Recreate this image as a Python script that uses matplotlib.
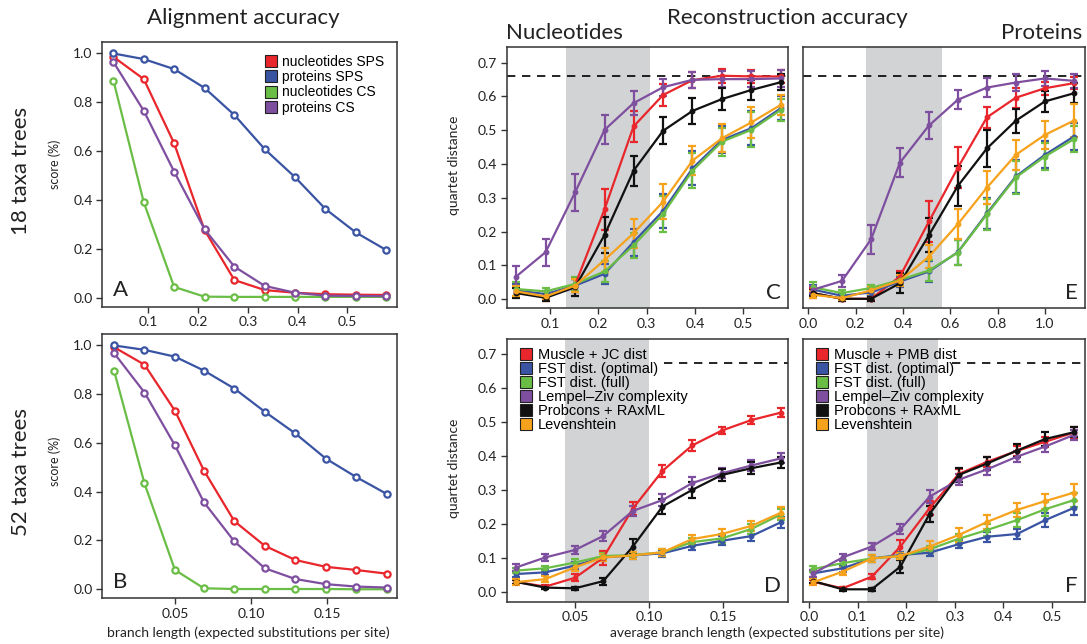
import matplotlib
matplotlib.use("Agg")
import matplotlib.pyplot as plt
from matplotlib.lines import Line2D

# ---- colours / labels ----
RED, BLUE, GREEN, PURPLE, BLACK, ORANGE = "#e8262b", "#3a54a4", "#6abd45", "#7f4f9f", "#111111", "#f6a21d"

align_labels = ["nucleotides SPS", "proteins SPS", "nucleotides CS", "proteins CS"]
align_colors = [RED, BLUE, GREEN, PURPLE]

rec_colors = [RED, BLUE, GREEN, PURPLE, BLACK, ORANGE]
nuc_labels = ["Muscle + JC dist", "FST dist. (optimal)", "FST dist. (full)",
              "Lempel\u2013Ziv complexity", "Probcons + RAxML", "Levenshtein"]
prot_labels = ["Muscle + PMB dist", "FST dist. (optimal)", "FST dist. (full)",
               "Lempel\u2013Ziv complexity", "Probcons + RAxML", "Levenshtein"]

# ---- x values (branch lengths) ----
x_18_nuc = [0.030, 0.091, 0.152, 0.213, 0.273, 0.334, 0.395, 0.456, 0.517, 0.578]
x_52_nuc = [0.010, 0.030, 0.050, 0.069, 0.089, 0.109, 0.129, 0.149, 0.169, 0.189]
x_18_prot = [0.020, 0.142, 0.265, 0.387, 0.510, 0.632, 0.755, 0.877, 1.000, 1.122]
x_52_prot = [0.009, 0.069, 0.129, 0.188, 0.248, 0.308, 0.367, 0.428, 0.486, 0.545]

# ---- alignment accuracy (A: 18 taxa, B: 52 taxa); order = align_labels ----
score_A = [
    [0.986, 0.895, 0.632, 0.277, 0.072, 0.031, 0.020, 0.014, 0.012, 0.011],
    [1.000, 0.977, 0.936, 0.859, 0.748, 0.608, 0.493, 0.363, 0.267, 0.195],
    [0.889, 0.390, 0.044, 0.004, 0.003, 0.003, 0.003, 0.003, 0.003, 0.003],
    [0.965, 0.765, 0.516, 0.280, 0.127, 0.048, 0.020, 0.008, 0.007, 0.006],
]
score_B = [
    [0.993, 0.921, 0.732, 0.487, 0.279, 0.178, 0.120, 0.092, 0.079, 0.064],
    [1.000, 0.982, 0.954, 0.897, 0.823, 0.728, 0.639, 0.536, 0.460, 0.391],
    [0.897, 0.434, 0.079, 0.004, 0.001, 0.001, 0.001, 0.001, 0.000, 0.000],
    [0.969, 0.807, 0.590, 0.357, 0.196, 0.086, 0.042, 0.021, 0.011, 0.007],
]

# ---- reconstruction accuracy (quartet distance); order = rec_colors ----
qd_C = [
    [0.020, 0.006, 0.042, 0.266, 0.511, 0.604, 0.648, 0.661, 0.659, 0.659],
    [0.026, 0.015, 0.040, 0.075, 0.169, 0.261, 0.387, 0.471, 0.506, 0.565],
    [0.030, 0.023, 0.045, 0.082, 0.159, 0.252, 0.380, 0.466, 0.501, 0.560],
    [0.067, 0.139, 0.316, 0.501, 0.580, 0.627, 0.649, 0.651, 0.651, 0.653],
    [0.018, 0.004, 0.035, 0.190, 0.380, 0.498, 0.557, 0.592, 0.619, 0.642],
    [0.023, 0.008, 0.040, 0.116, 0.195, 0.288, 0.410, 0.476, 0.523, 0.575],
]
err_C = [
    [0.015, 0.010, 0.020, 0.060, 0.045, 0.033, 0.023, 0.020, 0.020, 0.020],
    [0.020, 0.010, 0.020, 0.030, 0.040, 0.050, 0.050, 0.040, 0.050, 0.035],
    [0.020, 0.010, 0.020, 0.030, 0.037, 0.052, 0.052, 0.041, 0.052, 0.033],
    [0.030, 0.040, 0.055, 0.043, 0.035, 0.025, 0.023, 0.023, 0.024, 0.024],
    [0.015, 0.008, 0.025, 0.053, 0.044, 0.040, 0.038, 0.033, 0.030, 0.024],
    [0.015, 0.008, 0.020, 0.035, 0.043, 0.052, 0.044, 0.042, 0.045, 0.030],
]
qd_E = [
    [0.018, 0.001, 0.001, 0.067, 0.230, 0.389, 0.538, 0.596, 0.624, 0.639],
    [0.028, 0.010, 0.020, 0.052, 0.082, 0.139, 0.254, 0.363, 0.427, 0.481],
    [0.035, 0.018, 0.033, 0.057, 0.085, 0.138, 0.251, 0.360, 0.422, 0.473],
    [0.028, 0.054, 0.177, 0.404, 0.514, 0.590, 0.626, 0.641, 0.653, 0.646],
    [0.018, 0.001, 0.001, 0.047, 0.190, 0.335, 0.446, 0.528, 0.585, 0.609],
    [0.013, 0.003, 0.026, 0.055, 0.126, 0.222, 0.330, 0.427, 0.486, 0.528],
]
err_E = [
    [0.015, 0.005, 0.005, 0.015, 0.060, 0.060, 0.031, 0.030, 0.020, 0.018],
    [0.015, 0.008, 0.010, 0.015, 0.030, 0.037, 0.046, 0.050, 0.040, 0.039],
    [0.015, 0.008, 0.010, 0.015, 0.030, 0.037, 0.046, 0.050, 0.040, 0.039],
    [0.010, 0.018, 0.043, 0.044, 0.041, 0.028, 0.029, 0.025, 0.022, 0.020],
    [0.010, 0.005, 0.005, 0.030, 0.050, 0.058, 0.054, 0.035, 0.031, 0.030],
    [0.010, 0.005, 0.010, 0.015, 0.035, 0.045, 0.048, 0.044, 0.042, 0.048],
]
qd_D = [
    [0.029, 0.015, 0.041, 0.100, 0.245, 0.356, 0.431, 0.475, 0.506, 0.528],
    [0.052, 0.057, 0.077, 0.101, 0.107, 0.113, 0.135, 0.150, 0.164, 0.205],
    [0.062, 0.069, 0.086, 0.105, 0.108, 0.116, 0.146, 0.157, 0.185, 0.228],
    [0.071, 0.101, 0.123, 0.164, 0.238, 0.270, 0.320, 0.349, 0.372, 0.393],
    [0.029, 0.012, 0.010, 0.031, 0.133, 0.251, 0.300, 0.344, 0.364, 0.381],
    [0.028, 0.037, 0.072, 0.101, 0.107, 0.116, 0.155, 0.170, 0.194, 0.233],
]
err_D = [
    [0.005, 0.005, 0.010, 0.020, 0.020, 0.017, 0.015, 0.010, 0.012, 0.012],
    [0.008, 0.008, 0.010, 0.010, 0.010, 0.010, 0.012, 0.013, 0.014, 0.016],
    [0.008, 0.008, 0.010, 0.010, 0.010, 0.010, 0.012, 0.013, 0.015, 0.016],
    [0.010, 0.010, 0.012, 0.015, 0.015, 0.017, 0.018, 0.015, 0.015, 0.015],
    [0.005, 0.005, 0.005, 0.010, 0.022, 0.022, 0.023, 0.018, 0.017, 0.015],
    [0.008, 0.008, 0.012, 0.010, 0.010, 0.010, 0.013, 0.015, 0.015, 0.017],
]
qd_F = [
    [0.029, 0.010, 0.044, 0.133, 0.246, 0.347, 0.383, 0.415, 0.442, 0.469],
    [0.054, 0.069, 0.098, 0.108, 0.115, 0.140, 0.162, 0.170, 0.211, 0.247],
    [0.067, 0.084, 0.098, 0.105, 0.125, 0.156, 0.182, 0.211, 0.243, 0.270],
    [0.054, 0.101, 0.133, 0.184, 0.280, 0.330, 0.361, 0.398, 0.428, 0.462],
    [0.031, 0.007, 0.007, 0.074, 0.229, 0.344, 0.378, 0.416, 0.450, 0.470],
    [0.028, 0.059, 0.098, 0.105, 0.133, 0.167, 0.206, 0.241, 0.267, 0.292],
]
err_F = [
    [0.005, 0.005, 0.008, 0.020, 0.020, 0.015, 0.015, 0.015, 0.015, 0.015],
    [0.010, 0.010, 0.010, 0.010, 0.010, 0.012, 0.015, 0.015, 0.020, 0.020],
    [0.010, 0.010, 0.010, 0.010, 0.010, 0.015, 0.018, 0.020, 0.020, 0.020],
    [0.010, 0.010, 0.010, 0.015, 0.020, 0.017, 0.017, 0.017, 0.015, 0.015],
    [0.005, 0.005, 0.005, 0.020, 0.025, 0.020, 0.020, 0.020, 0.020, 0.015],
    [0.008, 0.010, 0.010, 0.010, 0.015, 0.020, 0.020, 0.020, 0.022, 0.025],
]

# shaded ranges and random-tree baseline
shade_C, shade_E = (0.133, 0.308), (0.242, 0.565)
shade_D, shade_F = (0.0433, 0.100), (0.1197, 0.2655)
random_C, random_D = 0.661, 0.673

plt.rcParams["font.family"] = ["Lato", "DejaVu Sans"]
EDGE = "#333333"
TXT = "#222222"

fig = plt.figure(figsize=(10.87, 6.44), dpi=100)


def style_axes(ax, ylabels=True):
    for s in ax.spines.values():
        s.set_color(EDGE)
        s.set_linewidth(1.1)
    ax.tick_params(axis="both", direction="out", length=4, width=1, color=EDGE,
                   labelsize=10, pad=3, labelcolor=TXT)
    if not ylabels:
        ax.tick_params(axis="y", left=False, labelleft=False)


def legend_handles(colors):
    return [Line2D([], [], marker="s", ls="none", ms=8.5, mfc=c, mec="#222222", mew=0.8)
            for c in colors]


# ---- alignment accuracy panels ----
def align_panel(rect, xs, scores, letter, xticks, xticklabels):
    ax = fig.add_axes(rect)
    for vals, c in zip(scores, align_colors):
        ax.plot(xs, vals, color=c, lw=1.6, marker="o", ms=4.5, mfc="white", mec=c, mew=1.6,
                zorder=3)
    ax.set_ylim(-0.037, 1.046)
    ax.set_yticks([0.0, 0.2, 0.4, 0.6, 0.8, 1.0])
    ax.set_yticklabels(["0.0", "0.2", "0.4", "0.6", "0.8", "1.0"])
    ax.set_xticks(xticks)
    ax.set_xticklabels(xticklabels)
    ax.text(0.035, 0.025, letter, transform=ax.transAxes, fontsize=16, color=TXT,
            ha="left", va="bottom")
    style_axes(ax)
    return ax


axA = align_panel([0.0941, 0.5238, 0.2708, 0.4106], x_18_nuc, score_A, "A",
                  [0.1, 0.2, 0.3, 0.4, 0.5], ["0.1", "0.2", "0.3", "0.4", "0.5"])
axA.set_xlim(0.0076, 0.599)
axA.legend(legend_handles(align_colors), align_labels, loc="upper left",
           bbox_to_anchor=(0.52, 0.99), frameon=False, handlelength=0.8, handletextpad=0.4,
           labelspacing=0.1, borderpad=0.2, prop={"family": "Liberation Sans", "size": 10})

axB = align_panel([0.0941, 0.0710, 0.2708, 0.4100], x_52_nuc, score_B, "B",
                  [0.05, 0.10, 0.15], ["0.05", "0.10", "0.15"])
axB.set_xlim(0.0023, 0.1955)


# ---- reconstruction accuracy panels ----
def rec_panel(rect, xs, means, errs, shade, letter, ylim, xticks, xticklabels, ylabels):
    ax = fig.add_axes(rect)
    ax.axvspan(shade[0], shade[1], color="#d1d3d4", lw=0, zorder=0)
    for vals, e, c in zip(means, errs, rec_colors):
        ax.errorbar(xs, vals, yerr=e, color=c, lw=1.6, marker="o", ms=3.2, capsize=3,
                    capthick=1.6, elinewidth=1.6, zorder=3)
    ax.set_ylim(*ylim)
    ax.set_yticks([0.0, 0.1, 0.2, 0.3, 0.4, 0.5, 0.6, 0.7])
    ax.set_yticklabels(["0.0", "0.1", "0.2", "0.3", "0.4", "0.5", "0.6", "0.7"])
    ax.set_xticks(xticks)
    ax.set_xticklabels(xticklabels)
    ax.text(0.975, 0.02, letter, transform=ax.transAxes, fontsize=16, color=TXT,
            ha="right", va="bottom")
    style_axes(ax, ylabels)
    return ax


axC = rec_panel([0.4661, 0.5213, 0.2585, 0.4062], x_18_nuc, qd_C, err_C, shade_C, "C",
                (-0.027, 0.747), [0.1, 0.2, 0.3, 0.4, 0.5],
                ["0.1", "0.2", "0.3", "0.4", "0.5"], True)
axC.set_xlim(0.0103, 0.592)
axC.axhline(random_C, color="black", lw=1.2, dashes=(5, 4), zorder=2)

axE = rec_panel([0.7385, 0.5213, 0.2597, 0.4062], x_18_prot, qd_E, err_E, shade_E, "E",
                (-0.027, 0.747), [0.0, 0.2, 0.4, 0.6, 0.8, 1.0],
                ["0.0", "0.2", "0.4", "0.6", "0.8", "1.0"], False)
axE.set_xlim(-0.024, 1.17)
axE.axhline(random_C, color="black", lw=1.2, dashes=(5, 4), zorder=2)

rec_legend = dict(loc="upper left", bbox_to_anchor=(0.012, 1.005), frameon=False,
                  handlelength=0.8, handletextpad=0.4, labelspacing=0.0, borderpad=0.2,
                  prop={"family": "Liberation Sans", "size": 10.5})

axD = rec_panel([0.4661, 0.0657, 0.2585, 0.4080], x_52_nuc, qd_D, err_D, shade_D, "D",
                (-0.0295, 0.745), [0.05, 0.10, 0.15], ["0.05", "0.10", "0.15"], True)
axD.set_xlim(0.0039, 0.1934)
axD.axhline(random_D, xmin=0.56, xmax=1.0, color="black", lw=1.2, dashes=(5, 4), zorder=2)
axD.legend(legend_handles(rec_colors), nuc_labels, **rec_legend)

axF = rec_panel([0.7385, 0.0657, 0.2597, 0.4080], x_52_prot, qd_F, err_F, shade_F, "F",
                (-0.0295, 0.745), [0.0, 0.1, 0.2, 0.3, 0.4, 0.5],
                ["0.0", "0.1", "0.2", "0.3", "0.4", "0.5"], False)
axF.set_xlim(-0.013, 0.568)
axF.axhline(random_D, xmin=0.53, xmax=1.0, color="black", lw=1.2, dashes=(5, 4), zorder=2)
axF.legend(legend_handles(rec_colors), prot_labels, **rec_legend)

# ---- titles and labels ----
W, H = 1087.0, 644.0
fig.text(243 / W, 1 - 18 / H, "Alignment accuracy", fontsize=16, ha="center", va="center",
         color=TXT)
fig.text(787 / W, 1 - 18 / H, "Reconstruction accuracy", fontsize=16, ha="center",
         va="center", color=TXT)
fig.text(506 / W, 1 - 33 / H, "Nucleotides", fontsize=16, ha="left", va="center",
         color=TXT)
fig.text(1082 / W, 1 - 33 / H, "Proteins", fontsize=16, ha="right", va="center",
         color=TXT)
fig.text(21 / W, 1 - 171 / H, "18 taxa trees", fontsize=16, rotation=90, ha="center",
         va="center", color=TXT)
fig.text(21 / W, 1 - 472 / H, "52 taxa trees", fontsize=16, rotation=90, ha="center",
         va="center", color=TXT)
fig.text(55 / W, 1 - 164 / H, "score (%)", fontsize=9, rotation=90, ha="center",
         va="center", color=TXT)
fig.text(55 / W, 1 - 461 / H, "score (%)", fontsize=9, rotation=90, ha="center",
         va="center", color=TXT)
fig.text(454 / W, 1 - 165 / H, "quartet distance", fontsize=10, rotation=90, ha="center",
         va="center", color=TXT)
fig.text(454 / W, 1 - 468 / H, "quartet distance", fontsize=10, rotation=90, ha="center",
         va="center", color=TXT)
fig.text(248 / W, 1 - 633 / H, "branch length (expected substitutions per site)",
         fontsize=10, ha="center", va="center", color=TXT)
fig.text(777 / W, 1 - 633 / H, "average branch length (expected substitutions per site)",
         fontsize=10, ha="center", va="center", color=TXT)

fig.savefig("out.png", dpi=100)
